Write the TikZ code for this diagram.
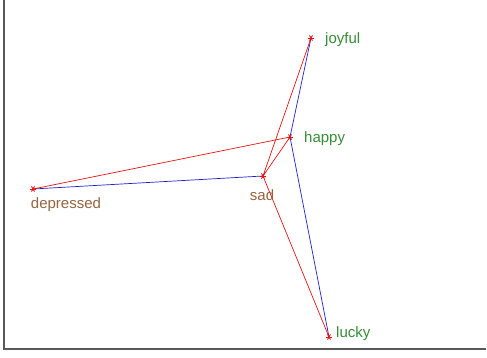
\documentclass[tikz,border=0pt]{standalone}
\usepackage{fontspec}
\setmainfont{Liberation Sans}
\usetikzlibrary{positioning}

\definecolor{wordgreen}{RGB}{55,140,55}
\definecolor{wordbrown}{RGB}{150,100,65}
\definecolor{linered}{RGB}{230,20,20}
\definecolor{lineblue}{RGB}{30,30,200}

\begin{document}
\begin{tikzpicture}[
        x=1pt, y=-1pt,
        word/.style={inner sep=1pt, font=\fontsize{15}{17}\selectfont},
        posword/.style={word, text=wordgreen},
        negword/.style={word, text=wordbrown},
        redlink/.style={draw=linered, line width=0.7pt},
        bluelink/.style={draw=lineblue, line width=0.7pt},
        ]
        \useasboundingbox (0,0) rectangle (487,358);

        % Axes
        \draw[gray!70!black, line width=1.2pt] (4,0) -- (4,349) -- (486,349);

        % Word positions
        \coordinate (joyful) at (311,38);
        \coordinate (happy) at (290,137);
        \coordinate (sad) at (263,176);
        \coordinate (depressed) at (33,189);
        \coordinate (lucky) at (329,337);

        % Blue links
        \draw[bluelink] (joyful) -- (happy) -- (lucky);
        \draw[bluelink] (depressed) -- (sad);

        % Red links
        \draw[redlink] (depressed) -- (happy) -- (sad) -- (joyful);
        \draw[redlink] (sad) -- (lucky);

        % Markers
        \foreach \w in {joyful, happy, sad, depressed, lucky}
            \foreach \a in {0, 60, 120}
                \draw[linered, line width=0.9pt] (\w) ++(\a:3) -- ++(\a+180:6);

        % Labels
        \node[posword, right=13pt of joyful, yshift=-2pt] (ljoyful) {joyful};
        \node[posword, right=13pt of happy, yshift=-2pt] (lhappy) {happy};
        \node[posword, anchor=west] (llucky) at (335,334) {lucky};
        \node[negword] (lsad) at (262,195) {sad};
        \node[negword] (ldepressed) at (66,205) {depressed};

    \end{tikzpicture}
\end{document}
